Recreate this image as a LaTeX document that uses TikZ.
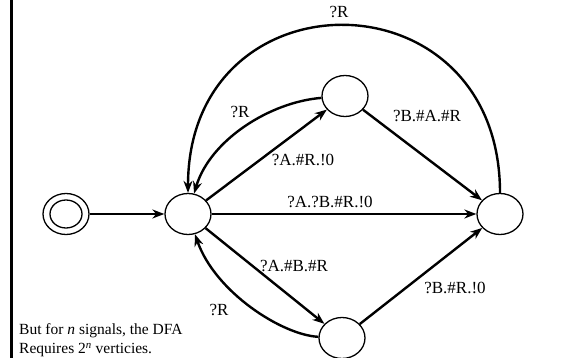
\documentclass[tikz,border=0pt]{standalone}
\usepackage{fontspec}
\setmainfont{Liberation Serif}
\usetikzlibrary{shapes.geometric,arrows.meta}
\tikzset{
  state/.style={ellipse,draw,line width=1.3pt,minimum width=46pt,minimum height=41pt,inner sep=0pt},
  inner/.style={ellipse,draw,line width=1.3pt,minimum width=32pt,minimum height=28pt,inner sep=0pt},
  edge/.style={line width=2.4pt,-{Stealth[length=12pt,width=9pt]}},
  lbl/.style={font=\fontsize{17}{19}\selectfont,inner sep=0pt},
  note/.style={font=\fontsize{15.5}{19}\selectfont,inner sep=0pt,anchor=west}
}
\begin{document}
\begin{tikzpicture}[x=1pt,y=-1pt]
\useasboundingbox (0,0) rectangle (563,358);
\draw[line width=2.2pt] (11.5,0) -- (11.5,358);
\node[state] (s) at (66,214) {};
\node[inner] (sin) at (66,214) {};
\node[state] (q0) at (188,214) {};
\node[state] (q1) at (345,96) {};
\node[state] (q3) at (500,214) {};
\node[state] (q2) at (342,338) {};
\draw[edge] (s) -- (q0);
\draw[edge] (q3.north) .. controls (500,-30) and (188,-30) .. (q0.north);
\draw[edge] (q1) .. controls (270,102) and (210,140) .. (q0);
\draw[edge] (q0) -- (q1);
\draw[edge] (q1) -- (q3);
\draw[edge] (q0) -- (q3);
\draw[edge] (q0) -- (q2);
\draw[edge] (q2) .. controls (282,335) and (215,292) .. (q0);
\draw[edge] (q2) -- (q3);
\node[lbl] (l1) at (339,12) {?R};
\node[lbl] (l2) at (240,112) {?R};
\node[lbl] (l3) at (303,160) {?A.\#R.!0};
\node[lbl] (l4) at (427,116) {?B.\#A.\#R};
\node[lbl] (l5) at (330,202) {?A.?B.\#R.!0};
\node[lbl] (l6) at (294,266) {?A.\#B.\#R};
\node[lbl] (l7) at (219,310) {?R};
\node[lbl] (l8) at (455,288) {?B.\#R.!0};
\node[note] (n1) at (19,331) {But for \textit{n} signals, the DFA};
\node[note] (n2) at (19,350) {Requires 2\textsuperscript{\textit{n}} verticies.};
\end{tikzpicture}
\end{document}
